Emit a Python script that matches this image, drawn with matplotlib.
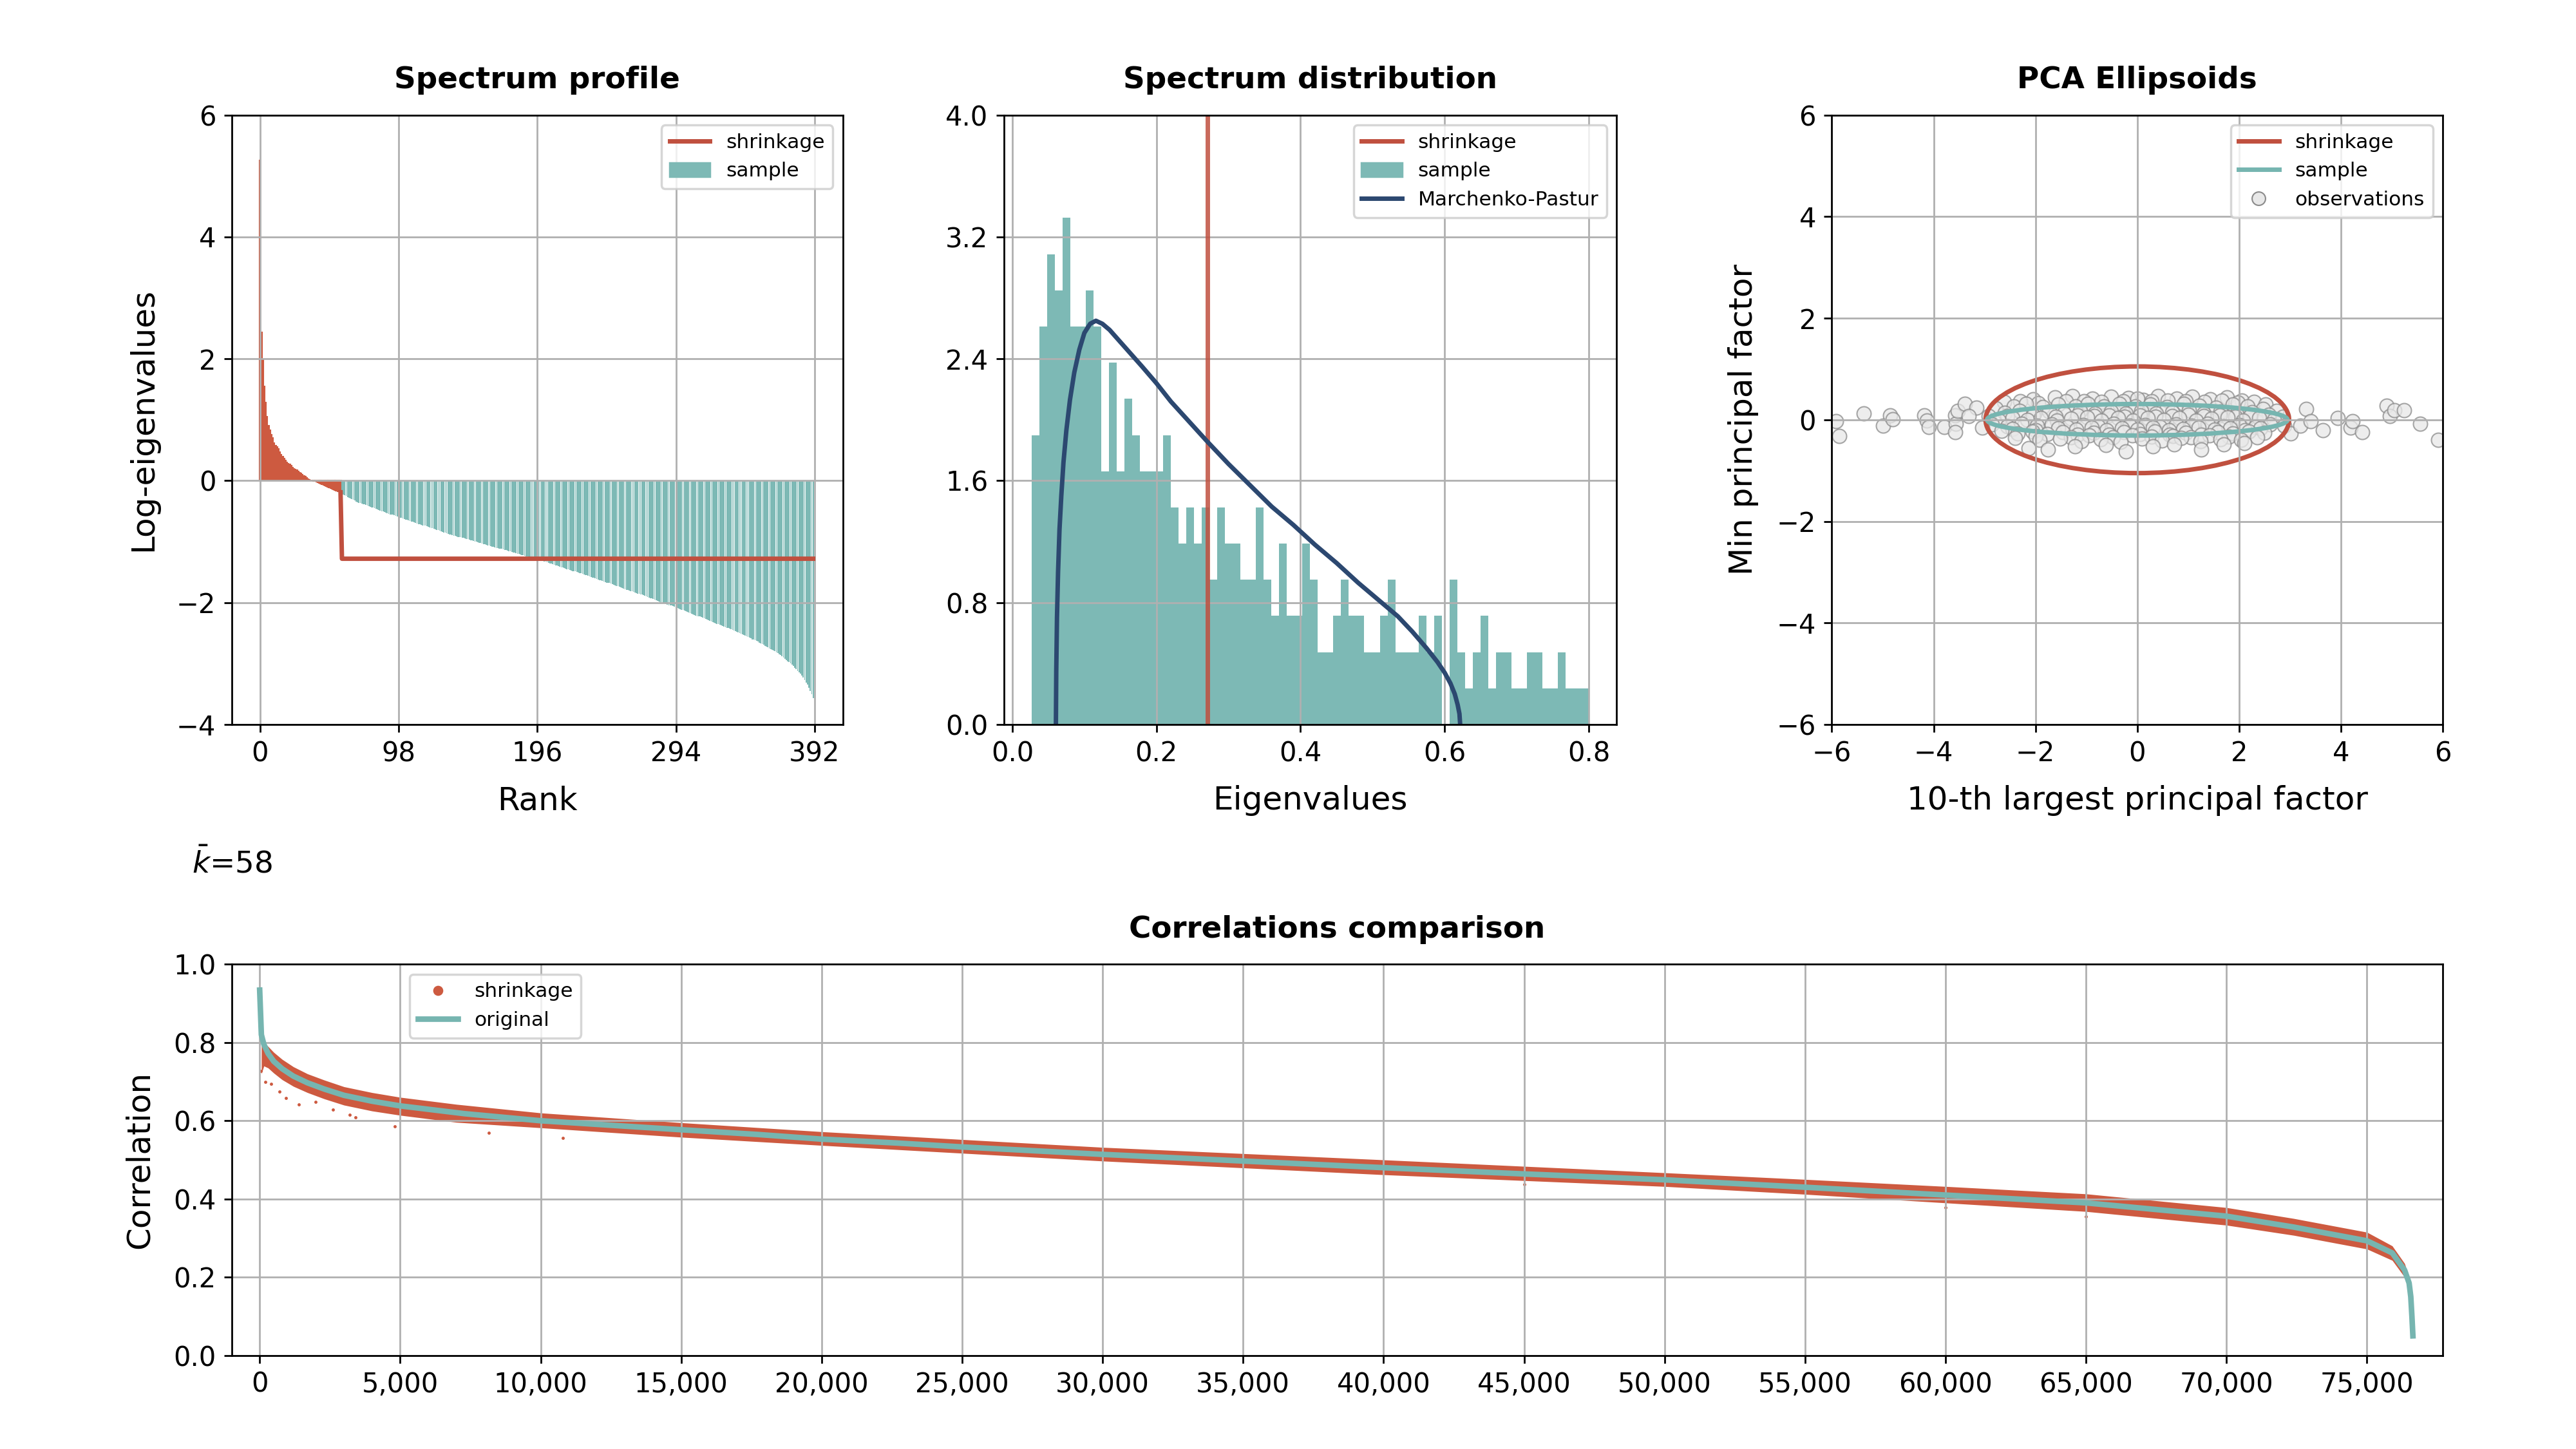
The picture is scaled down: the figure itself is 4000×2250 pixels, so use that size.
import matplotlib
matplotlib.use("Agg")
import matplotlib.pyplot as plt
import numpy as np
from matplotlib.patches import Ellipse, Patch
from matplotlib.lines import Line2D
from matplotlib.ticker import StrMethodFormatter

RED = '#c0503f'
RED_BAR = '#cd5a40'
TEAL = '#7db9b5'
TEAL_LINE = '#76b5b0'
NAVY = '#2c4870'

# ---- spectrum profile (log-eigenvalues by rank) ----
k_bar = 58
shrink_level = -1.28
log_eig_top = [5.26, 2.43, 1.98, 1.55, 1.28, 1.05, 0.90, 0.83, 0.76, 0.70,
               0.62, 0.58, 0.55, 0.52, 0.47, 0.43, 0.40, 0.36, 0.33, 0.30,
               0.28, 0.27, 0.25, 0.22, 0.20, 0.18, 0.17, 0.15, 0.13, 0.12,
               0.10, 0.08, 0.07, 0.05, 0.03, 0.02, 0.01, 0.00, -0.01, -0.01,
               -0.02, -0.03, -0.04, -0.05, -0.06, -0.07, -0.08, -0.09, -0.10, -0.11,
               -0.12, -0.13, -0.14, -0.15, -0.16, -0.17, -0.18, -0.19]
log_eig_rest = [-0.21, -0.23, -0.24, -0.25, -0.27, -0.28, -0.29, -0.30, -0.31, -0.32, -0.34, -0.35,
                -0.36, -0.37, -0.38, -0.39, -0.39, -0.40, -0.41, -0.42, -0.43, -0.44,
                -0.44, -0.45, -0.46, -0.47, -0.48, -0.49, -0.50, -0.50, -0.51, -0.52,
                -0.53, -0.54, -0.55, -0.55, -0.56, -0.57, -0.58, -0.59, -0.60, -0.61,
                -0.61, -0.62, -0.63, -0.64, -0.64, -0.65, -0.66, -0.67, -0.67, -0.68,
                -0.69, -0.70, -0.71, -0.71, -0.72, -0.73, -0.74, -0.74, -0.75, -0.76,
                -0.77, -0.78, -0.78, -0.79, -0.80, -0.81, -0.81, -0.82, -0.83, -0.84,
                -0.85, -0.85, -0.86, -0.87, -0.88, -0.88, -0.89, -0.90, -0.90, -0.91,
                -0.92, -0.92, -0.93, -0.94, -0.94, -0.95, -0.96, -0.96, -0.97, -0.98,
                -0.98, -0.99, -1.00, -1.00, -1.01, -1.02, -1.02, -1.03, -1.04, -1.04,
                -1.05, -1.06, -1.06, -1.07, -1.08, -1.08, -1.09, -1.10, -1.10, -1.11,
                -1.12, -1.12, -1.13, -1.14, -1.14, -1.15, -1.16, -1.16, -1.17, -1.18,
                -1.18, -1.19, -1.20, -1.20, -1.21, -1.22, -1.22, -1.23, -1.24, -1.24,
                -1.25, -1.26, -1.26, -1.27, -1.28, -1.28, -1.29, -1.30, -1.30, -1.31,
                -1.32, -1.33, -1.33, -1.34, -1.35, -1.36, -1.36, -1.37, -1.38, -1.39,
                -1.39, -1.40, -1.41, -1.42, -1.42, -1.43, -1.44, -1.45, -1.45, -1.46,
                -1.47, -1.48, -1.48, -1.49, -1.50, -1.51, -1.52, -1.52, -1.53, -1.54,
                -1.55, -1.55, -1.56, -1.57, -1.58, -1.59, -1.59, -1.60, -1.61, -1.62,
                -1.63, -1.63, -1.64, -1.65, -1.66, -1.67, -1.68, -1.68, -1.69, -1.70,
                -1.71, -1.72, -1.73, -1.73, -1.74, -1.75, -1.76, -1.77, -1.78, -1.79,
                -1.79, -1.80, -1.81, -1.81, -1.82, -1.83, -1.84, -1.85, -1.86, -1.87,
                -1.87, -1.88, -1.89, -1.90, -1.91, -1.92, -1.93, -1.93, -1.94, -1.95,
                -1.96, -1.97, -1.98, -1.99, -1.99, -2.00, -2.01, -2.02, -2.03, -2.04,
                -2.05, -2.05, -2.06, -2.07, -2.08, -2.09, -2.10, -2.11, -2.12, -2.12,
                -2.13, -2.14, -2.15, -2.16, -2.17, -2.18, -2.19, -2.20, -2.21, -2.22,
                -2.22, -2.23, -2.24, -2.25, -2.26, -2.27, -2.28, -2.29, -2.30, -2.31,
                -2.32, -2.33, -2.34, -2.35, -2.35, -2.36, -2.37, -2.38, -2.39, -2.40,
                -2.41, -2.42, -2.43, -2.44, -2.45, -2.46, -2.47, -2.48, -2.49, -2.50,
                -2.51, -2.52, -2.53, -2.54, -2.55, -2.56, -2.57, -2.58, -2.60, -2.61,
                -2.62, -2.63, -2.64, -2.66, -2.67, -2.68, -2.69, -2.71, -2.72, -2.73,
                -2.75, -2.76, -2.77, -2.79, -2.80, -2.82, -2.83, -2.85, -2.86, -2.88,
                -2.90, -2.92, -2.94, -2.96, -2.98, -3.00, -3.02, -3.04, -3.07, -3.09,
                -3.12, -3.14, -3.17, -3.20, -3.23, -3.27, -3.31, -3.35, -3.40, -3.45,
                -3.50, -3.57]

# ---- spectrum distribution ----
hist_counts = [8, 11, 13, 12, 14, 11, 11, 12, 11,
               7, 10, 7, 9, 8, 7, 7, 7, 8,
               6, 5, 6, 5, 6, 4, 6, 5, 5,
               4, 4, 6, 4, 3, 5, 3, 3, 5, 4,
               2, 2, 3, 4, 3, 3, 2, 2, 3, 4,
               2, 2, 2, 3, 2, 3, 0, 4, 2, 1,
               2, 3, 1, 2, 2, 1, 1, 2, 2, 1, 1, 2, 1, 1, 1]
hist_lo, hist_hi = 0.0265, 0.8
n_eig = 392
shrink_eig = 0.271
mp_x = [0.0605, 0.0610, 0.0620, 0.0635, 0.0655, 0.068, 0.071, 0.075, 0.080, 0.086,
        0.093, 0.100, 0.108, 0.116, 0.125, 0.135, 0.150, 0.165, 0.180, 0.200,
        0.220, 0.245, 0.270, 0.300, 0.330, 0.360, 0.390, 0.420, 0.450, 0.480,
        0.510, 0.535, 0.555, 0.575, 0.590, 0.600, 0.608, 0.614, 0.618, 0.6205, 0.6215]
mp_y = [0.0, 0.35, 0.70, 1.00, 1.28, 1.50, 1.72, 1.93, 2.13, 2.31,
        2.46, 2.57, 2.63, 2.65, 2.63, 2.59, 2.51, 2.43, 2.35, 2.24,
        2.12, 1.99, 1.86, 1.71, 1.57, 1.43, 1.31, 1.18, 1.06, 0.93,
        0.81, 0.71, 0.61, 0.50, 0.41, 0.34, 0.27, 0.20, 0.13, 0.07, 0.0]

# ---- PCA ellipsoids ----
ell_shrink = (5.96, 2.10)
ell_sample = (5.90, 0.62)
obs_x = [-2.61, -2.05, -1.62, -1.27, -0.88, -0.52, -0.18, 0.12, 0.41, 0.77, 1.08, 1.43, 1.76, 2.05, 2.29, 2.52,
         -2.30, -1.95, -1.40, -1.05, -0.70, -0.28, 0.00, 0.28, 0.60, 0.95, 1.32, 1.66, 1.98,
         -2.78, -2.42, -2.18, -1.86, -1.55, -1.21, -0.97, -0.66, -0.35, -0.04, 0.26, 0.58, 0.91, 1.22, 1.55, 1.87, 2.16, 2.47, 2.74,
         -2.92, -2.60, -2.31, -2.02, -1.73, -1.44, -1.12, -0.83, -0.51, -0.22, 0.08, 0.37, 0.69, 1.01, 1.31, 1.63, 1.95, 2.26, 2.58, 2.86,
         -2.55, -2.05, -1.60, -1.18, -0.85, -0.55, -0.25, 0.05, 0.36, 0.68, 1.00, 1.30, 1.62, 1.92, 2.22, 2.50,
         -2.72, -2.45, -2.16, -1.90, -1.58, -1.30, -0.99, -0.70, -0.38, -0.09, 0.21, 0.52, 0.83, 1.15, 1.46, 1.77, 2.08, 2.39, 2.69,
         -2.85, -2.55, -2.28, -1.97, -1.68, -1.37, -1.06, -0.77, -0.46, -0.15, 0.15, 0.45, 0.76, 1.07, 1.38, 1.70, 2.00, 2.32, 2.61, 2.88,
         -2.45, -2.00, -1.55, -1.20, -0.90, -0.60, -0.30, 0.00, 0.30, 0.62, 0.90, 1.20, 1.52, 1.82, 2.12, 2.42,
         -2.66, -2.35, -2.06, -1.77, -1.46, -1.17, -0.86, -0.56, -0.26, 0.05, 0.34, 0.64, 0.95, 1.26, 1.58, 1.88, 2.19, 2.49,
         -2.00, -1.30, -0.95, -0.48, -0.10, 0.28, 0.70, 1.05, 1.42, 1.80,
         -2.40, -1.92, -1.52, -1.10, -0.72, -0.33, 0.09, 0.48, 0.86, 1.24, 1.63, 2.04, 2.35,
         -2.13, -1.75, -1.22, -0.62, -0.23, 0.30, 0.72, 1.26, 1.70, 2.10,
         -5.92, -5.85, -5.37, -4.99, -4.86, -4.80, -4.19, -4.13, -4.10, -3.79, -3.58, -3.56, -3.58, -3.52, -3.39, -3.16, -3.31, -3.05,
         3.01, 3.20, 3.32, 3.41, 3.64, 3.93, 4.19, 4.23, 4.42, 4.90, 4.96, 5.05, 5.24, 5.55, 5.91]
obs_y = [0.35, 0.40, 0.44, 0.47, 0.41, 0.46, 0.43, 0.39, 0.47, 0.42, 0.45, 0.40, 0.44, 0.38, 0.35, 0.30,
         0.36, 0.33, 0.37, 0.36, 0.35, 0.37, 0.41, 0.36, 0.38, 0.37, 0.35, 0.38, 0.34,
         0.22, 0.27, 0.31, 0.25, 0.30, 0.27, 0.32, 0.26, 0.31, 0.27, 0.30, 0.25, 0.31, 0.28, 0.24, 0.30, 0.26, 0.21, 0.17,
         0.08, 0.14, 0.17, 0.12, 0.16, 0.13, 0.18, 0.12, 0.16, 0.13, 0.17, 0.12, 0.15, 0.19, 0.13, 0.16, 0.11, 0.15, 0.10, 0.06,
         0.07, 0.09, 0.06, 0.09, 0.07, 0.09, 0.06, 0.09, 0.06, 0.08, 0.10, 0.07, 0.09, 0.06, 0.08, 0.05,
         -0.01, 0.03, 0.00, 0.04, -0.02, 0.02, 0.05, -0.01, 0.03, -0.02, 0.04, 0.00, 0.03, -0.02, 0.02, 0.05, -0.01, 0.03, 0.00,
         -0.09, -0.13, -0.08, -0.12, -0.09, -0.14, -0.10, -0.13, -0.08, -0.12, -0.10, -0.14, -0.09, -0.12, -0.08, -0.13, -0.10, -0.14, -0.09, -0.12,
         -0.18, -0.20, -0.17, -0.19, -0.16, -0.20, -0.17, -0.19, -0.16, -0.20, -0.18, -0.16, -0.19, -0.17, -0.20, -0.17,
         -0.22, -0.27, -0.23, -0.28, -0.24, -0.29, -0.25, -0.30, -0.24, -0.28, -0.23, -0.29, -0.25, -0.30, -0.24, -0.27, -0.23, -0.26,
         -0.32, -0.34, -0.31, -0.34, -0.31, -0.33, -0.32, -0.34, -0.31, -0.33,
         -0.36, -0.40, -0.37, -0.42, -0.38, -0.43, -0.37, -0.41, -0.36, -0.42, -0.38, -0.40, -0.34,
         -0.56, -0.58, -0.52, -0.50, -0.62, -0.52, -0.48, -0.58, -0.49, -0.46,
         -0.03, -0.32, 0.13, -0.12, 0.09, 0.01, 0.09, -0.01, -0.14, -0.14, 0.09, -0.08, -0.24, 0.17, 0.32, 0.24, 0.07, -0.16,
         -0.27, -0.12, 0.21, -0.03, -0.21, 0.04, -0.16, -0.03, -0.24, 0.28, 0.07, 0.19, 0.19, -0.08, -0.40]

# ---- correlations comparison ----
corr_x = [0, 60, 150, 300, 500, 800, 1200, 1700, 2300, 3000, 4000, 5000, 7300, 10000, 12600, 15000, 17700,
          20000, 22700, 25000, 30000, 35000, 40000, 45000, 50000, 55000, 60000, 65000, 70000,
          72400, 75000, 75900, 76340, 76500, 76560, 76600, 76635]
corr_orig = [0.934, 0.82, 0.795, 0.772, 0.752, 0.733, 0.714, 0.697, 0.681, 0.665, 0.650, 0.638, 0.618, 0.600,
             0.588, 0.577, 0.565, 0.553, 0.543, 0.533, 0.514, 0.497, 0.480, 0.464, 0.449, 0.430, 0.410,
             0.390, 0.356, 0.328, 0.293, 0.262, 0.218, 0.185, 0.150, 0.100, 0.050]
band_x = [60, 150, 300, 500, 800, 1200, 1700, 2300, 3000, 4000, 5000, 7000, 10000, 15000, 20000, 30000,
          40000, 50000, 55000, 60000, 65000, 70000, 72400, 75000, 75900, 76340, 76500]
band_hi = [0.81, 0.80, 0.79, 0.775, 0.757, 0.738, 0.72, 0.704, 0.687, 0.672, 0.66, 0.642, 0.62, 0.595,
           0.572, 0.532, 0.50, 0.467, 0.45, 0.432, 0.413, 0.378, 0.35, 0.315, 0.28, 0.235, 0.20]
band_lo = [0.72, 0.74, 0.735, 0.722, 0.705, 0.688, 0.672, 0.656, 0.64, 0.625, 0.614, 0.596, 0.582, 0.558,
           0.537, 0.497, 0.462, 0.432, 0.412, 0.39, 0.368, 0.333, 0.307, 0.272, 0.243, 0.20, 0.17]
stray_x = [30, 200, 410, 700, 940, 1400, 2000, 2600, 3200, 3400, 4800, 8150, 10800, 45000, 60000, 65000]
stray_y = [0.727, 0.70, 0.694, 0.675, 0.658, 0.641, 0.648, 0.628, 0.615, 0.608, 0.586, 0.569, 0.556, 0.438, 0.378, 0.355]

plt.rcParams['xtick.labelsize'] = 12
plt.rcParams['ytick.labelsize'] = 12
plt.rcParams['legend.fontsize'] = 9

TITLE_KW = dict(fontsize=13.5, fontweight='bold', pad=12)
LABEL_SIZE = 14.4

fig = plt.figure(figsize=(16, 9), dpi=250)
ax1 = fig.add_axes([0.0899, 0.5, 0.2373, 0.4206])
ax2 = fig.add_axes([0.3897, 0.5, 0.2379, 0.4206])
ax3 = fig.add_axes([0.7111, 0.5, 0.2372, 0.4206])
ax4 = fig.add_axes([0.0899, 0.0646, 0.8584, 0.2699])

# panel 1
sample = np.array(log_eig_top + log_eig_rest)
ranks = np.arange(len(sample))
ax1.bar(ranks[:k_bar], sample[:k_bar], width=0.8, color=RED_BAR,
        edgecolor=RED_BAR, linewidth=0.6)
ax1.bar(ranks[k_bar:], sample[k_bar:], width=0.8, color=TEAL, linewidth=0)
shrink = np.array(log_eig_top + [shrink_level] * len(log_eig_rest))
ax1.plot(ranks[k_bar - 1:], shrink[k_bar - 1:], color=RED, lw=2)
ax1.set_xlim(-20, 412)
ax1.set_ylim(-4, 6)
ax1.set_xticks([0, 98, 196, 294, 392])
ax1.set_yticks([-4, -2, 0, 2, 4, 6])
ax1.grid(True)
ax1.set_title('Spectrum profile', **TITLE_KW)
ax1.set_xlabel('Rank', fontsize=LABEL_SIZE, labelpad=8)
ax1.set_ylabel('Log-eigenvalues', fontsize=LABEL_SIZE, labelpad=8)
ax1.legend([Line2D([], [], color=RED, lw=2), Patch(color=TEAL)],
           ['shrinkage', 'sample'], loc='upper right')

# panel 2
edges = np.linspace(hist_lo, hist_hi, len(hist_counts) + 1)
bin_w = edges[1] - edges[0]
dens = np.array(hist_counts) / (n_eig * bin_w)
ax2.stairs(dens, edges, fill=True, color=TEAL, linewidth=0)
ax2.axvline(shrink_eig, color=RED, lw=2, alpha=0.85)
ax2.plot(mp_x, mp_y, color=NAVY, lw=2)
ax2.set_xlim(-0.0117, 0.8387)
ax2.set_ylim(0, 4.0)
ax2.set_xticks([0.0, 0.2, 0.4, 0.6, 0.8])
ax2.set_yticks([0.0, 0.8, 1.6, 2.4, 3.2, 4.0])
ax2.grid(True)
ax2.set_title('Spectrum distribution', **TITLE_KW)
ax2.set_xlabel('Eigenvalues', fontsize=LABEL_SIZE, labelpad=8)
ax2.legend([Line2D([], [], color=RED, lw=2), Patch(color=TEAL), Line2D([], [], color=NAVY, lw=2)],
           ['shrinkage', 'sample', 'Marchenko-Pastur'], loc='upper right')

# panel 3
ax3.scatter(obs_x, obs_y, s=40, facecolor='#e8e8e8', edgecolor='#8a8a8a', linewidth=0.6, alpha=0.75)
ax3.add_patch(Ellipse((0, 0), ell_shrink[0], ell_shrink[1], fill=False, edgecolor=RED, lw=2))
ax3.add_patch(Ellipse((0, 0), ell_sample[0], ell_sample[1], fill=False, edgecolor=TEAL_LINE, lw=2))
ax3.set_xlim(-6, 6)
ax3.set_ylim(-6, 6)
ax3.set_xticks(range(-6, 7, 2))
ax3.set_yticks(range(-6, 7, 2))
ax3.grid(True)
ax3.set_title('PCA Ellipsoids', **TITLE_KW)
ax3.set_xlabel('10-th largest principal factor', fontsize=LABEL_SIZE, labelpad=8)
ax3.set_ylabel('Min principal factor', fontsize=LABEL_SIZE, labelpad=8)
ax3.legend([Line2D([], [], color=RED, lw=2), Line2D([], [], color=TEAL_LINE, lw=2),
            Line2D([], [], marker='o', ls='', markersize=6, markerfacecolor='#e8e8e8',
                   markeredgecolor='#8a8a8a', markeredgewidth=0.6)],
           ['shrinkage', 'sample', 'observations'], loc='upper right')

# panel 4
ax4.fill_between(band_x, band_lo, band_hi, color=RED_BAR, linewidth=0)
ax4.scatter(stray_x, stray_y, s=2, color=RED_BAR, linewidths=0)
ax4.plot(corr_x, corr_orig, color=TEAL_LINE, lw=2.5)
ax4.set_xlim(-1000, 77700)
ax4.set_ylim(0, 1.0)
ax4.set_xticks(range(0, 75001, 5000))
ax4.set_yticks([0.0, 0.2, 0.4, 0.6, 0.8, 1.0])
ax4.xaxis.set_major_formatter(StrMethodFormatter('{x:,.0f}'))
ax4.grid(True)
ax4.set_title('Correlations comparison', **TITLE_KW)
ax4.set_ylabel('Correlation', fontsize=LABEL_SIZE, labelpad=8)
ax4.legend([Line2D([], [], marker='o', ls='', markersize=3.5, color=RED_BAR),
            Line2D([], [], color=TEAL_LINE, lw=2.5)],
           ['shrinkage', 'original'], loc='upper left', bbox_to_anchor=(0.076, 1.0))

fig.text(0.0745, 0.404, r'$\bar{k}$=58', fontsize=13.5, va='center')

fig.savefig('out.png', dpi=250)
